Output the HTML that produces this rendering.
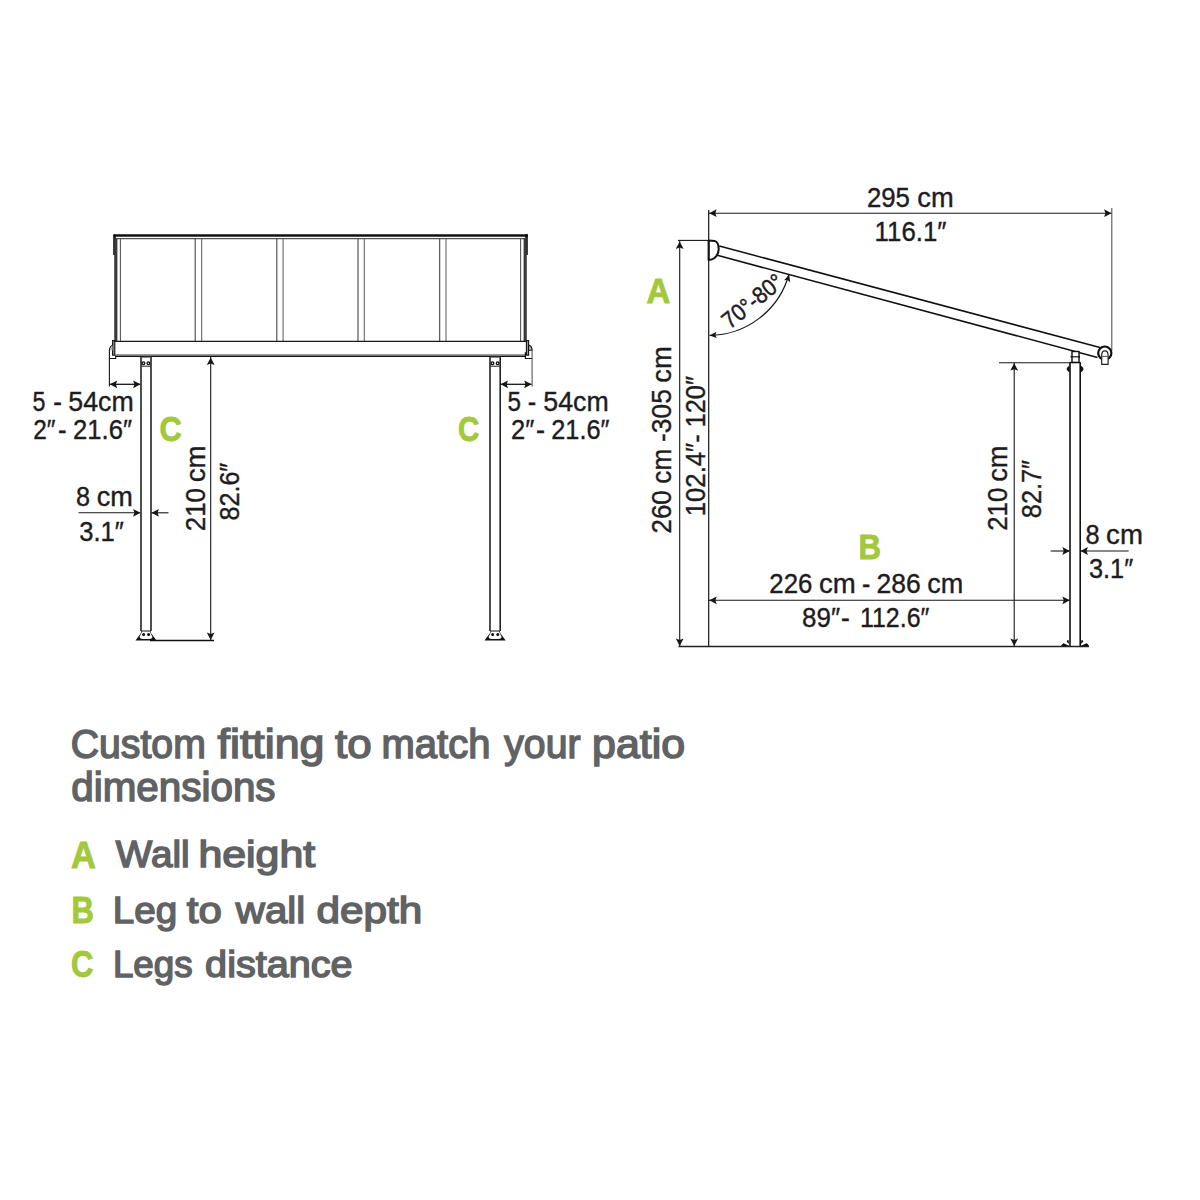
<!DOCTYPE html>
<html><head><meta charset="utf-8"><style>
html,body{margin:0;padding:0;background:#fff;width:1200px;height:1200px;overflow:hidden}
svg{display:block}
text{font-family:"Liberation Sans",sans-serif}
</style></head><body>
<svg width="1200" height="1200" viewBox="0 0 1200 1200">
<rect width="1200" height="1200" fill="#fff"/>
<line x1="113.5" y1="235.5" x2="528" y2="235.5" stroke="#111" stroke-width="2.6"/>
<line x1="116" y1="238.6" x2="525" y2="238.6" stroke="#555" stroke-width="1.2"/>
<line x1="114.5" y1="234.5" x2="114.5" y2="255" stroke="#111" stroke-width="2.6"/>
<line x1="115.8" y1="238" x2="115.8" y2="342" stroke="#3a3a3a" stroke-width="3.2"/>
<line x1="120.4" y1="238" x2="120.4" y2="342" stroke="#555" stroke-width="1.1"/>
<line x1="526.5" y1="234.5" x2="526.5" y2="255" stroke="#111" stroke-width="2.6"/>
<line x1="525.2" y1="238" x2="525.2" y2="342" stroke="#3a3a3a" stroke-width="3.2"/>
<line x1="520.6" y1="238" x2="520.6" y2="342" stroke="#555" stroke-width="1.1"/>
<line x1="195.2" y1="238.5" x2="195.2" y2="341.5" stroke="#444" stroke-width="1.1"/>
<line x1="201.7" y1="238.5" x2="201.7" y2="341.5" stroke="#666" stroke-width="1.1"/>
<line x1="276.8" y1="238.5" x2="276.8" y2="341.5" stroke="#444" stroke-width="1.1"/>
<line x1="283.1" y1="238.5" x2="283.1" y2="341.5" stroke="#666" stroke-width="1.1"/>
<line x1="358" y1="238.5" x2="358" y2="341.5" stroke="#444" stroke-width="1.1"/>
<line x1="364.3" y1="238.5" x2="364.3" y2="341.5" stroke="#666" stroke-width="1.1"/>
<line x1="439.7" y1="238.5" x2="439.7" y2="341.5" stroke="#444" stroke-width="1.1"/>
<line x1="446" y1="238.5" x2="446" y2="341.5" stroke="#666" stroke-width="1.1"/>
<line x1="114.5" y1="341.4" x2="526" y2="341.4" stroke="#1a1a1a" stroke-width="1.3"/>
<line x1="115.5" y1="354.7" x2="525.5" y2="354.7" stroke="#999" stroke-width="1.2"/>
<line x1="115.5" y1="356.2" x2="525.5" y2="356.2" stroke="#111" stroke-width="1.6"/>
<rect x="112.6" y="340.6" width="2.2" height="14.6" fill="#999" stroke="#111" stroke-width="1.1"/>
<rect x="526.4" y="340.6" width="2.2" height="14.6" fill="#999" stroke="#111" stroke-width="1.1"/>
<path d="M112.5,345.3 Q109.5,347 109.4,350.5 L109.4,358.5 L115.7,358.5 L115.7,355.6" fill="none" stroke="#111" stroke-width="1.1"/>
<path d="M112.5,345.3 Q110,347 109.8,350.3 L112.5,350.3 Z" fill="#bbb"/>
<path d="M528.6,345.1 Q532,346.2 532.2,350.3 L528.6,350.3 Z" fill="#bbb" stroke="#111" stroke-width="1.1"/>
<path d="M525.4,352.3 L525.4,358.5 L532,358.5" fill="none" stroke="#111" stroke-width="1.2"/>
<line x1="141" y1="357" x2="141" y2="631" stroke="#222" stroke-width="1.6"/>
<line x1="151" y1="357" x2="151" y2="631" stroke="#222" stroke-width="1.6"/>
<line x1="141" y1="366.2" x2="151" y2="366.2" stroke="#333" stroke-width="1.1"/>
<line x1="141" y1="357.2" x2="151" y2="357.2" stroke="#555" stroke-width="1.0"/>
<circle cx="143.5" cy="363.2" r="1.35" fill="none" stroke="#111" stroke-width="1.3"/>
<circle cx="148.4" cy="363.2" r="1.35" fill="none" stroke="#111" stroke-width="1.3"/>
<path d="M135.5,640.5 L141,633 L141.5,630.5 L150.5,630.5 L151,633 L156.5,640.5 Z" fill="#111"/>
<path d="M142.2,631.5 L149.8,631.5 L152.5,637 Q152,639 149.5,639 L142.5,639 Q140,639 139.5,637 Z" fill="#fff"/>
<circle cx="143.6" cy="634.5" r="1.5" fill="#111"/>
<circle cx="148.6" cy="634.5" r="1.5" fill="#111"/>
<line x1="490" y1="357" x2="490" y2="631" stroke="#222" stroke-width="1.6"/>
<line x1="500.2" y1="357" x2="500.2" y2="631" stroke="#222" stroke-width="1.6"/>
<line x1="490" y1="366.2" x2="500.2" y2="366.2" stroke="#333" stroke-width="1.1"/>
<line x1="490" y1="357.2" x2="500.2" y2="357.2" stroke="#555" stroke-width="1.0"/>
<circle cx="492.5" cy="363.2" r="1.35" fill="none" stroke="#111" stroke-width="1.3"/>
<circle cx="497.59999999999997" cy="363.2" r="1.35" fill="none" stroke="#111" stroke-width="1.3"/>
<path d="M484.5,640.5 L490,633 L490.5,630.5 L499.7,630.5 L500.2,633 L505.7,640.5 Z" fill="#111"/>
<path d="M491.2,631.5 L499.0,631.5 L501.7,637 Q501.2,639 498.7,639 L491.5,639 Q489,639 488.5,637 Z" fill="#fff"/>
<circle cx="492.6" cy="634.5" r="1.5" fill="#111"/>
<circle cx="497.8" cy="634.5" r="1.5" fill="#111"/>
<line x1="150" y1="640.5" x2="214" y2="640.5" stroke="#111" stroke-width="1.6"/>
<line x1="109.4" y1="358" x2="109.4" y2="386.5" stroke="#161616" stroke-width="1.1"/>
<line x1="110" y1="384.3" x2="140" y2="384.3" stroke="#161616" stroke-width="1.3"/>
<path d="M0,0 L-7.4,-3.9 L-6.068,0 L-7.4,3.9 Z" fill="#161616" transform="translate(109.8,384.3) rotate(180)"/>
<path d="M0,0 L-7.4,-3.9 L-6.068,0 L-7.4,3.9 Z" fill="#161616" transform="translate(140.5,384.3) rotate(0)"/>
<line x1="532.1" y1="350.5" x2="532.1" y2="386.5" stroke="#555" stroke-width="1.1"/>
<line x1="500.5" y1="384.3" x2="531.5" y2="384.3" stroke="#161616" stroke-width="1.3"/>
<path d="M0,0 L-7.4,-3.9 L-6.068,0 L-7.4,3.9 Z" fill="#161616" transform="translate(500.6,384.3) rotate(180)"/>
<path d="M0,0 L-7.4,-3.9 L-6.068,0 L-7.4,3.9 Z" fill="#161616" transform="translate(531.6,384.3) rotate(0)"/>
<line x1="78.5" y1="512.8" x2="140" y2="512.8" stroke="#161616" stroke-width="1.1"/>
<path d="M0,0 L-7.4,-3.9 L-6.068,0 L-7.4,3.9 Z" fill="#161616" transform="translate(140.5,512.8) rotate(0)"/>
<line x1="151.5" y1="512.8" x2="168.5" y2="512.8" stroke="#161616" stroke-width="1.1"/>
<path d="M0,0 L-7.4,-3.9 L-6.068,0 L-7.4,3.9 Z" fill="#161616" transform="translate(151.5,512.8) rotate(180)"/>
<line x1="210.7" y1="357" x2="210.7" y2="640" stroke="#161616" stroke-width="1.1"/>
<path d="M0,0 L-7.4,-3.9 L-6.068,0 L-7.4,3.9 Z" fill="#161616" transform="translate(210.7,357.5) rotate(-90)"/>
<path d="M0,0 L-7.4,-3.9 L-6.068,0 L-7.4,3.9 Z" fill="#161616" transform="translate(210.7,640) rotate(90)"/>
<line x1="708.7" y1="210" x2="708.7" y2="647" stroke="#161616" stroke-width="1.2"/>
<line x1="709" y1="213.2" x2="1111.8" y2="213.2" stroke="#161616" stroke-width="1.1"/>
<path d="M0,0 L-7.4,-3.9 L-6.068,0 L-7.4,3.9 Z" fill="#161616" transform="translate(709.2,213.2) rotate(180)"/>
<path d="M0,0 L-7.4,-3.9 L-6.068,0 L-7.4,3.9 Z" fill="#161616" transform="translate(1111.5,213.2) rotate(0)"/>
<line x1="1111.8" y1="208" x2="1111.8" y2="351" stroke="#555" stroke-width="1.1"/>
<line x1="678" y1="240.4" x2="708" y2="240.4" stroke="#161616" stroke-width="1.1"/>
<line x1="679.7" y1="241" x2="679.7" y2="646" stroke="#161616" stroke-width="1.1"/>
<path d="M0,0 L-7.4,-3.9 L-6.068,0 L-7.4,3.9 Z" fill="#161616" transform="translate(679.7,241.5) rotate(-90)"/>
<path d="M0,0 L-7.4,-3.9 L-6.068,0 L-7.4,3.9 Z" fill="#161616" transform="translate(679.7,646) rotate(90)"/>
<line x1="678.5" y1="646.5" x2="1089" y2="646.5" stroke="#222" stroke-width="1.3"/>
<path d="M719.3,246 L1100,347.5" stroke="#111" stroke-width="1.5"/>
<path d="M717.3,255.3 L1097.5,357.5" stroke="#111" stroke-width="1.5"/>
<path d="M709,240.5 L714.5,240.9 Q718.6,242 718.7,249 Q718.6,254.5 714.5,258 Q712,259.8 709,260" fill="#fff" stroke="#111" stroke-width="2"/>
<line x1="708.7" y1="240" x2="708.7" y2="260.5" stroke="#111" stroke-width="2.2"/>
<circle cx="1104.8" cy="353.1" r="6.6" fill="#fff" stroke="#111" stroke-width="2.2"/>
<path d="M1101.7,364.4 L1101.7,355.5 Q1101.7,350.9 1104.9,350.9 Q1108.1,350.9 1108.1,355.5 L1108.1,364.4 Z" fill="#fff" stroke="#222" stroke-width="1.2"/>
<line x1="1101.7" y1="356.4" x2="1108.1" y2="356.4" stroke="#444" stroke-width="0.9"/>
<rect x="1072" y="351.5" width="7" height="11" fill="#fff" stroke="#111" stroke-width="1.4"/>
<line x1="1071" y1="356.8" x2="1080" y2="356.8" stroke="#111" stroke-width="1.2"/>
<line x1="1070" y1="362.5" x2="1070" y2="646" stroke="#111" stroke-width="1.6"/>
<line x1="1080.2" y1="362.5" x2="1080.2" y2="646" stroke="#111" stroke-width="1.6"/>
<line x1="1069.5" y1="362.5" x2="1080.5" y2="362.5" stroke="#111" stroke-width="1.3"/>
<path d="M1069.6,365.5 Q1066.3,367.5 1066.8,369.5 Q1067.5,371.5 1069.6,372.5 Z" fill="#111"/>
<path d="M1080.6,365.5 Q1083.9,367.5 1083.4,369.5 Q1082.7,371.5 1080.6,372.5 Z" fill="#111"/>
<path d="M1071.2,355 Q1069.6,356.8 1071.2,358.6 Z M1079,355 Q1080.6,356.8 1079,358.6 Z" fill="#111"/>
<path d="M1061,646 Q1063,642 1065,644 L1069.5,646 Z M1089,646 Q1087,642 1085,644 L1080.5,646 Z" fill="#111"/>
<path d="M1068.5,640 Q1066,640.5 1067,642 L1069.2,644 Z M1081.5,640 Q1084,640.5 1083,642 L1080.8,644 Z" fill="#111"/>
<line x1="999" y1="362.7" x2="1070" y2="362.7" stroke="#161616" stroke-width="1.1"/>
<line x1="1014.2" y1="363" x2="1014.2" y2="646" stroke="#161616" stroke-width="1.1"/>
<path d="M0,0 L-7.4,-3.9 L-6.068,0 L-7.4,3.9 Z" fill="#161616" transform="translate(1014.2,363.2) rotate(-90)"/>
<path d="M0,0 L-7.4,-3.9 L-6.068,0 L-7.4,3.9 Z" fill="#161616" transform="translate(1014.2,646) rotate(90)"/>
<line x1="709" y1="600.3" x2="1070" y2="600.3" stroke="#161616" stroke-width="1.1"/>
<path d="M0,0 L-7.4,-3.9 L-6.068,0 L-7.4,3.9 Z" fill="#161616" transform="translate(709.3,600.3) rotate(180)"/>
<path d="M0,0 L-7.4,-3.9 L-6.068,0 L-7.4,3.9 Z" fill="#161616" transform="translate(1069.8,600.3) rotate(0)"/>
<line x1="1050.7" y1="551" x2="1069.5" y2="551" stroke="#161616" stroke-width="1.1"/>
<path d="M0,0 L-7.4,-3.9 L-6.068,0 L-7.4,3.9 Z" fill="#161616" transform="translate(1069.8,551) rotate(0)"/>
<line x1="1080.5" y1="551" x2="1128.7" y2="551" stroke="#161616" stroke-width="1.1"/>
<path d="M0,0 L-7.4,-3.9 L-6.068,0 L-7.4,3.9 Z" fill="#161616" transform="translate(1080.5,551) rotate(180)"/>
<path d="M788.75,275.0 A83.2,83.2 0 0 1 709.5,335.4" fill="none" stroke="#161616" stroke-width="1.2"/>
<path d="M0,0 L-7,-3.2 L-5.739999999999999,0 L-7,3.2 Z" fill="#161616" transform="translate(789.2,274.5) rotate(-73)"/>
<path d="M0,0 L-7,-3.2 L-5.739999999999999,0 L-7,3.2 Z" fill="#161616" transform="translate(709.6,335.4) rotate(176)"/>
<text x="32.56" y="411.3" font-size="27.3" fill="#1f1c1d" font-weight="normal" stroke="#1f1c1d" stroke-width="0.38" textLength="12.94" lengthAdjust="spacingAndGlyphs">5</text>
<text x="53.35" y="411.3" font-size="27.3" fill="#1f1c1d" font-weight="normal" stroke="#1f1c1d" stroke-width="0.38" textLength="8.65" lengthAdjust="spacingAndGlyphs">-</text>
<text x="68.27" y="411.3" font-size="27.3" fill="#1f1c1d" font-weight="normal" stroke="#1f1c1d" stroke-width="0.38" textLength="65.4" lengthAdjust="spacingAndGlyphs">54cm</text>
<text x="33.2" y="439.4" font-size="27.3" fill="#1f1c1d" font-weight="normal" stroke="#1f1c1d" stroke-width="0.38" textLength="22.32" lengthAdjust="spacingAndGlyphs">2&#8243;</text>
<text x="57.96" y="439.4" font-size="27.3" fill="#1f1c1d" font-weight="normal" stroke="#1f1c1d" stroke-width="0.38" textLength="8.59" lengthAdjust="spacingAndGlyphs">-</text>
<text x="73.06" y="439.4" font-size="27.3" fill="#1f1c1d" font-weight="normal" stroke="#1f1c1d" stroke-width="0.38" textLength="58.97" lengthAdjust="spacingAndGlyphs">21.6&#8243;</text>
<text x="76.08" y="506.3" font-size="27.3" fill="#1f1c1d" font-weight="normal" stroke="#1f1c1d" stroke-width="0.38" textLength="14.04" lengthAdjust="spacingAndGlyphs">8</text>
<text x="96.71" y="506.3" font-size="27.3" fill="#1f1c1d" font-weight="normal" stroke="#1f1c1d" stroke-width="0.38" textLength="36.17" lengthAdjust="spacingAndGlyphs">cm</text>
<text x="79.2" y="540.5" font-size="27.3" fill="#1f1c1d" font-weight="normal" stroke="#1f1c1d" stroke-width="0.38" textLength="44.55" lengthAdjust="spacingAndGlyphs">3.1&#8243;</text>
<text x="507.43" y="410.6" font-size="27.3" fill="#1f1c1d" font-weight="normal" stroke="#1f1c1d" stroke-width="0.38" textLength="13.5" lengthAdjust="spacingAndGlyphs">5</text>
<text x="527.82" y="410.6" font-size="27.3" fill="#1f1c1d" font-weight="normal" stroke="#1f1c1d" stroke-width="0.38" textLength="8.47" lengthAdjust="spacingAndGlyphs">-</text>
<text x="543.37" y="410.6" font-size="27.3" fill="#1f1c1d" font-weight="normal" stroke="#1f1c1d" stroke-width="0.38" textLength="65.4" lengthAdjust="spacingAndGlyphs">54cm</text>
<text x="511.06" y="438.7" font-size="27.3" fill="#1f1c1d" font-weight="normal" stroke="#1f1c1d" stroke-width="0.38" textLength="23.27" lengthAdjust="spacingAndGlyphs">2&#8243;</text>
<text x="535.91" y="438.7" font-size="27.3" fill="#1f1c1d" font-weight="normal" stroke="#1f1c1d" stroke-width="0.38" textLength="9.03" lengthAdjust="spacingAndGlyphs">-</text>
<text x="551.27" y="438.7" font-size="27.3" fill="#1f1c1d" font-weight="normal" stroke="#1f1c1d" stroke-width="0.38" textLength="58.25" lengthAdjust="spacingAndGlyphs">21.6&#8243;</text>
<text x="204.9" y="531.25" font-size="27.3" fill="#1f1c1d" font-weight="normal" stroke="#1f1c1d" stroke-width="0.38" textLength="43.31" lengthAdjust="spacingAndGlyphs" transform="rotate(-90 204.9 531.25)">210</text>
<text x="204.9" y="482.21" font-size="27.3" fill="#1f1c1d" font-weight="normal" stroke="#1f1c1d" stroke-width="0.38" textLength="36.77" lengthAdjust="spacingAndGlyphs" transform="rotate(-90 204.9 482.21)">cm</text>
<text x="239.4" y="520.52" font-size="27.3" fill="#1f1c1d" font-weight="normal" stroke="#1f1c1d" stroke-width="0.38" textLength="57.79" lengthAdjust="spacingAndGlyphs" transform="rotate(-90 239.4 520.52)">82.6&#8243;</text>
<text x="866.96" y="207.0" font-size="27.3" fill="#1f1c1d" font-weight="normal" stroke="#1f1c1d" stroke-width="0.38" textLength="43.0" lengthAdjust="spacingAndGlyphs">295</text>
<text x="917.3" y="207.0" font-size="27.3" fill="#1f1c1d" font-weight="normal" stroke="#1f1c1d" stroke-width="0.38" textLength="36.44" lengthAdjust="spacingAndGlyphs">cm</text>
<text x="874.59" y="240.8" font-size="27.3" fill="#1f1c1d" font-weight="normal" stroke="#1f1c1d" stroke-width="0.38" textLength="71.85" lengthAdjust="spacingAndGlyphs">116.1&#8243;</text>
<text x="769.3" y="592.8" font-size="27.3" fill="#1f1c1d" font-weight="normal" stroke="#1f1c1d" stroke-width="0.38" textLength="43.09" lengthAdjust="spacingAndGlyphs">226</text>
<text x="819.09" y="592.8" font-size="27.3" fill="#1f1c1d" font-weight="normal" stroke="#1f1c1d" stroke-width="0.38" textLength="36.77" lengthAdjust="spacingAndGlyphs">cm</text>
<text x="862.09" y="592.8" font-size="27.3" fill="#1f1c1d" font-weight="normal" stroke="#1f1c1d" stroke-width="0.38" textLength="8.28" lengthAdjust="spacingAndGlyphs">-</text>
<text x="876.43" y="592.8" font-size="27.3" fill="#1f1c1d" font-weight="normal" stroke="#1f1c1d" stroke-width="0.38" textLength="44.19" lengthAdjust="spacingAndGlyphs">286</text>
<text x="927.31" y="592.8" font-size="27.3" fill="#1f1c1d" font-weight="normal" stroke="#1f1c1d" stroke-width="0.38" textLength="36.07" lengthAdjust="spacingAndGlyphs">cm</text>
<text x="802.05" y="627.0" font-size="27.3" fill="#1f1c1d" font-weight="normal" stroke="#1f1c1d" stroke-width="0.38" textLength="38.02" lengthAdjust="spacingAndGlyphs">89&#8243;</text>
<text x="841.03" y="627.0" font-size="27.3" fill="#1f1c1d" font-weight="normal" stroke="#1f1c1d" stroke-width="0.38" textLength="8.78" lengthAdjust="spacingAndGlyphs">-</text>
<text x="859.9" y="627.0" font-size="27.3" fill="#1f1c1d" font-weight="normal" stroke="#1f1c1d" stroke-width="0.38" textLength="69.49" lengthAdjust="spacingAndGlyphs">112.6&#8243;</text>
<text x="1085.47" y="543.6" font-size="27.3" fill="#1f1c1d" font-weight="normal" stroke="#1f1c1d" stroke-width="0.38" textLength="14.1" lengthAdjust="spacingAndGlyphs">8</text>
<text x="1106.09" y="543.6" font-size="27.3" fill="#1f1c1d" font-weight="normal" stroke="#1f1c1d" stroke-width="0.38" textLength="36.82" lengthAdjust="spacingAndGlyphs">cm</text>
<text x="1088.9" y="578.3" font-size="27.3" fill="#1f1c1d" font-weight="normal" stroke="#1f1c1d" stroke-width="0.38" textLength="44.25" lengthAdjust="spacingAndGlyphs">3.1&#8243;</text>
<text x="670.8" y="533.45" font-size="27.3" fill="#1f1c1d" font-weight="normal" stroke="#1f1c1d" stroke-width="0.38" textLength="43.2" lengthAdjust="spacingAndGlyphs" transform="rotate(-90 670.8 533.45)">260</text>
<text x="670.8" y="483.66" font-size="27.3" fill="#1f1c1d" font-weight="normal" stroke="#1f1c1d" stroke-width="0.38" textLength="34.93" lengthAdjust="spacingAndGlyphs" transform="rotate(-90 670.8 483.66)">cm</text>
<text x="670.8" y="441.97" font-size="27.3" fill="#1f1c1d" font-weight="normal" stroke="#1f1c1d" stroke-width="0.38" textLength="52.83" lengthAdjust="spacingAndGlyphs" transform="rotate(-90 670.8 441.97)">-305</text>
<text x="670.8" y="382.7" font-size="27.3" fill="#1f1c1d" font-weight="normal" stroke="#1f1c1d" stroke-width="0.38" textLength="36.44" lengthAdjust="spacingAndGlyphs" transform="rotate(-90 670.8 382.7)">cm</text>
<text x="705.0" y="516.25" font-size="27.3" fill="#1f1c1d" font-weight="normal" stroke="#1f1c1d" stroke-width="0.38" textLength="82.01" lengthAdjust="spacingAndGlyphs" transform="rotate(-90 705.0 516.25)">102.4&#8243;-</text>
<text x="705.0" y="427.43" font-size="27.3" fill="#1f1c1d" font-weight="normal" stroke="#1f1c1d" stroke-width="0.38" textLength="51.38" lengthAdjust="spacingAndGlyphs" transform="rotate(-90 705.0 427.43)">120&#8243;</text>
<text x="1006.9" y="530.85" font-size="27.3" fill="#1f1c1d" font-weight="normal" stroke="#1f1c1d" stroke-width="0.38" textLength="43.31" lengthAdjust="spacingAndGlyphs" transform="rotate(-90 1006.9 530.85)">210</text>
<text x="1006.9" y="481.8" font-size="27.3" fill="#1f1c1d" font-weight="normal" stroke="#1f1c1d" stroke-width="0.38" textLength="36.34" lengthAdjust="spacingAndGlyphs" transform="rotate(-90 1006.9 481.8)">cm</text>
<text x="1041.4" y="518.13" font-size="27.3" fill="#1f1c1d" font-weight="normal" stroke="#1f1c1d" stroke-width="0.38" textLength="58.2" lengthAdjust="spacingAndGlyphs" transform="rotate(-90 1041.4 518.13)">82.7&#8243;</text>
<text x="159.38" y="441.0" font-size="35.5" fill="#a3c83b" font-weight="bold" stroke="#a3c83b" stroke-width="0.9" textLength="22.2" lengthAdjust="spacingAndGlyphs">C</text>
<text x="457.97" y="440.6" font-size="35.5" fill="#a3c83b" font-weight="bold" stroke="#a3c83b" stroke-width="0.9" textLength="21.36" lengthAdjust="spacingAndGlyphs">C</text>
<text x="646.47" y="303.4" font-size="35.5" fill="#a3c83b" font-weight="bold" stroke="#a3c83b" stroke-width="0.9" textLength="23.9" lengthAdjust="spacingAndGlyphs">A</text>
<text x="858.46" y="558.6" font-size="35.5" fill="#a3c83b" font-weight="bold" stroke="#a3c83b" stroke-width="0.9" textLength="22.54" lengthAdjust="spacingAndGlyphs">B</text>
<text x="70.78" y="758" font-size="40" fill="#616264" font-weight="normal" stroke="#616264" stroke-width="1.5" textLength="135.0" lengthAdjust="spacingAndGlyphs">Custom</text>
<text x="217.58" y="758" font-size="40" fill="#616264" font-weight="normal" stroke="#616264" stroke-width="1.5" textLength="106.92" lengthAdjust="spacingAndGlyphs">fitting</text>
<text x="334.97" y="758" font-size="40" fill="#616264" font-weight="normal" stroke="#616264" stroke-width="1.5" textLength="36.67" lengthAdjust="spacingAndGlyphs">to</text>
<text x="381.55" y="758" font-size="40" fill="#616264" font-weight="normal" stroke="#616264" stroke-width="1.5" textLength="108.83" lengthAdjust="spacingAndGlyphs">match</text>
<text x="504.28" y="758" font-size="40" fill="#616264" font-weight="normal" stroke="#616264" stroke-width="1.5" textLength="76.24" lengthAdjust="spacingAndGlyphs">your</text>
<text x="592.12" y="758" font-size="40" fill="#616264" font-weight="normal" stroke="#616264" stroke-width="1.5" textLength="93.08" lengthAdjust="spacingAndGlyphs">patio</text>
<text x="71.24" y="801.3" font-size="40" fill="#616264" font-weight="normal" stroke="#616264" stroke-width="1.5" textLength="204.34" lengthAdjust="spacingAndGlyphs">dimensions</text>
<text x="71.01" y="867.6" font-size="36.5" fill="#a3c83b" font-weight="bold" stroke="#a3c83b" stroke-width="0.9" textLength="24.93" lengthAdjust="spacingAndGlyphs">A</text>
<text x="71.61" y="922.6" font-size="36.5" fill="#a3c83b" font-weight="bold" stroke="#a3c83b" stroke-width="0.9" textLength="22.43" lengthAdjust="spacingAndGlyphs">B</text>
<text x="71.05" y="977.4" font-size="36.5" fill="#a3c83b" font-weight="bold" stroke="#a3c83b" stroke-width="0.9" textLength="22.35" lengthAdjust="spacingAndGlyphs">C</text>
<text x="115.87" y="867.4" font-size="37.5" fill="#616264" font-weight="normal" stroke="#616264" stroke-width="1.5" textLength="73.7" lengthAdjust="spacingAndGlyphs">Wall</text>
<text x="198.4" y="867.4" font-size="37.5" fill="#616264" font-weight="normal" stroke="#616264" stroke-width="1.5" textLength="116.86" lengthAdjust="spacingAndGlyphs">height</text>
<text x="112.78" y="922.5" font-size="37.5" fill="#616264" font-weight="normal" stroke="#616264" stroke-width="1.5" textLength="64.44" lengthAdjust="spacingAndGlyphs">Leg</text>
<text x="186.88" y="922.5" font-size="37.5" fill="#616264" font-weight="normal" stroke="#616264" stroke-width="1.5" textLength="34.99" lengthAdjust="spacingAndGlyphs">to</text>
<text x="235.87" y="922.5" font-size="37.5" fill="#616264" font-weight="normal" stroke="#616264" stroke-width="1.5" textLength="69.35" lengthAdjust="spacingAndGlyphs">wall</text>
<text x="316.45" y="922.5" font-size="37.5" fill="#616264" font-weight="normal" stroke="#616264" stroke-width="1.5" textLength="105.74" lengthAdjust="spacingAndGlyphs">depth</text>
<text x="112.89" y="977.2" font-size="37.5" fill="#616264" font-weight="normal" stroke="#616264" stroke-width="1.5" textLength="79.77" lengthAdjust="spacingAndGlyphs">Legs</text>
<text x="205.11" y="977.2" font-size="37.5" fill="#616264" font-weight="normal" stroke="#616264" stroke-width="1.5" textLength="147.48" lengthAdjust="spacingAndGlyphs">distance</text>
<text x="729.8" y="329.8" font-size="23.5" fill="#1f1c1d" font-weight="normal" stroke="#1f1c1d" stroke-width="0.45" textLength="71.5" lengthAdjust="spacingAndGlyphs" transform="rotate(-39 729.8 329.8)">70°-80°</text>
</svg>
</body></html>
